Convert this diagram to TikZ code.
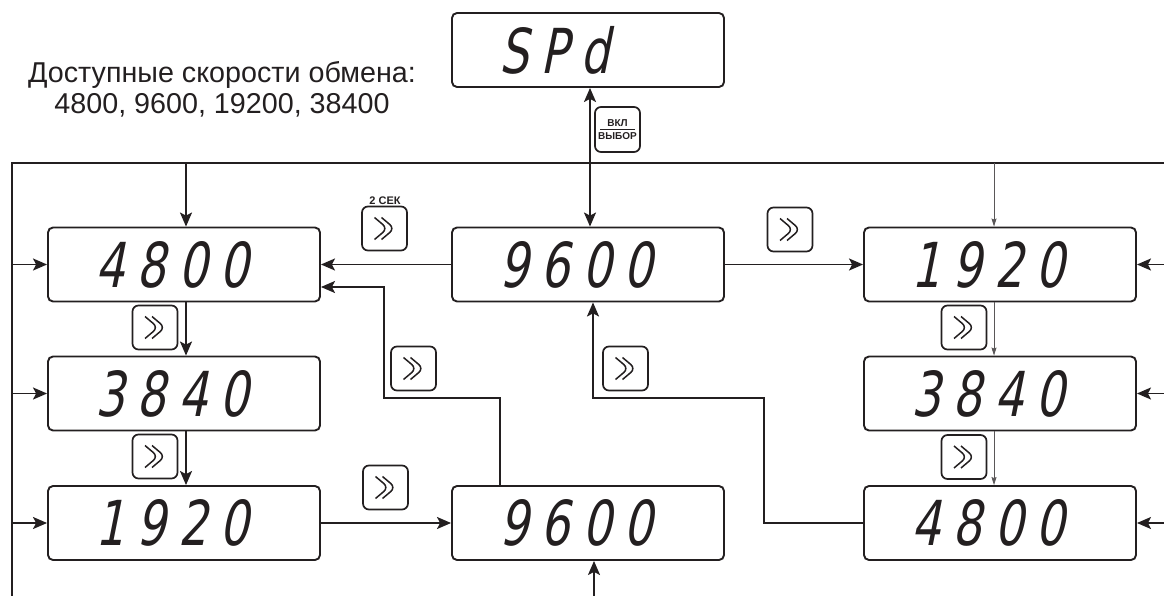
\documentclass[tikz,border=0pt]{standalone}
\usepackage{fontspec}
\setmainfont{Liberation Sans}
\newfontfamily\segfont[FakeSlant=0.2,FakeStretch=0.74,LetterSpace=20]{DejaVu Sans}
\usetikzlibrary{arrows.meta,calc}
\definecolor{ink}{HTML}{231F20}
\newcommand{\vklbox}{\vbox{\offinterlineskip\hbox to 40pt{\hss ВКЛ\hss}\kern2.6pt\hbox to 40pt{\hss\vrule width 35pt height 0.9pt depth 0pt\hss}\kern2.8pt\hbox to 40pt{\hss ВЫБОР\hss}}}
\begin{document}
\begin{tikzpicture}[x=1pt,y=-1pt,
  disp/.style={draw=ink, line width=1.9pt, rounded corners=5pt, minimum width=272pt, minimum height=74pt,
    inner sep=0pt, text width=178pt, align=left, text=ink, font=\segfont\fontsize{62}{62}\selectfont},
  btn/.style={draw=ink, line width=1.7pt, rounded corners=6pt, minimum width=45pt, minimum height=44pt, inner sep=0pt,
    path picture={\draw[ink, line width=1.5pt, shift={(path picture bounding box.center)}]
      (-10,-11) -- (3,0) -- (-10,11) (-3,-11) -- (10,0) -- (-3,11);}},
  btnk/.style={draw=ink, line width=1.7pt, rounded corners=6pt, minimum width=45pt, minimum height=45pt, inner sep=0pt,
    text=ink, font=\bfseries\fontsize{10}{10}\selectfont},
  conn/.style={draw=ink, line width=1.6pt},
  arr/.style={conn, -{Stealth[length=14pt,width=12pt,inset=3pt]}},
  thinarr/.style={draw=ink!75, line width=0.8pt, -{Stealth[length=8pt,width=5pt,inset=1pt]}}]
\useasboundingbox (0,0) rectangle (1164,596);

% caption
\node[font=\fontsize{28.7}{31}\selectfont, align=center, text=ink] (cap) at (222,89)
  {Доступные скорости обмена:\\4800, 9600, 19200, 38400};

% displays
\node[disp] (spd) at (588,50) {SPd};
\node[disp] (a1) at (184,264.5) {4800};
\node[disp] (a2) at (184,393.5) {3840};
\node[disp] (a3) at (184,523) {1920};
\node[disp] (m1) at (588,264.5) {9600};
\node[disp] (m2) at (588,523) {9600};
\node[disp] (r1) at (1000,264.5) {1920};
\node[disp] (r2) at (1000,393.5) {3840};
\node[disp] (r3) at (1000,523) {4800};

% buttons
\node[btn] (b0) at (384.5,228.5) {};
\node[font=\bfseries\fontsize{11}{11}\selectfont, text=ink, inner sep=0pt] (sek) at (385,201) {2 СЕК};
\node[btn] (b1) at (790,229.5) {};
\node[btn] (b2) at (155,327.5) {};
\node[btn] (b3) at (155,456.5) {};
\node[btn] (b4) at (964,327.5) {};
\node[btn] (b5) at (964,457) {};
\node[btn] (b6) at (413.5,368.5) {};
\node[btn] (b7) at (625.5,368.5) {};
\node[btn] (b8) at (385.5,487.5) {};
\node[btnk] (vkl) at (617.5,129.5) {\vklbox};

% frame lines
\coordinate (TL) at (12,163);
\coordinate (TR) at (1164,163);
\coordinate (BL) at (12,596);
\coordinate (RE) at (1164,0);
\draw[conn] (TR) -- (TL) -- (BL);
\draw[arr] (TL |- a1.west) -- (a1.west);
\draw[arr] (TL |- a2.west) -- (a2.west);
\draw[arr] (TL |- a3.west) -- (a3.west);
\draw[arr] (RE |- r1.east) -- (r1.east);
\draw[arr] (RE |- r2.east) -- (r2.east);
\draw[arr] (RE |- r3.east) -- (r3.east);

% left column
\coordinate (ta) at (186,163);
\draw[arr] (ta) -- (ta |- a1.north);
\draw[arr] (a1.south -| ta) -- (a2.north -| ta);
\draw[arr] (a2.south -| ta) -- (a3.north -| ta);

% middle
\draw[conn, {Stealth[length=14pt,width=12pt,inset=3pt]}-{Stealth[length=14pt,width=12pt,inset=3pt]}]
  ([xshift=2pt]spd.south) -- ([xshift=2pt]m1.north);
\draw[arr] (m1.west) -- (a1.east);
\draw[arr] (m1.east) -- (r1.west);
\draw[arr] (a3.east) -- (m2.west);
\coordinate (k0) at (500,0);
\coordinate (k1) at (384,398);
\draw[arr] (m2.north -| k0) |- (k1) |- ([yshift=-22.5pt]a1.east);
\coordinate (k2) at (764,398);
\coordinate (k3) at (593,0);
\draw[arr] (r3.west) -| (k2) -| (m1.south -| k3);
\coordinate (bm) at (594,596);
\draw[arr] (bm) -- (bm |- m2.south);

% right column (thin)
\coordinate (tr) at (994,163);
\draw[thinarr] (tr) -- (tr |- r1.north);
\draw[thinarr] (r1.south -| tr) -- (r2.north -| tr);
\draw[thinarr] (r2.south -| tr) -- (r3.north -| tr);
\end{tikzpicture}
\end{document}
